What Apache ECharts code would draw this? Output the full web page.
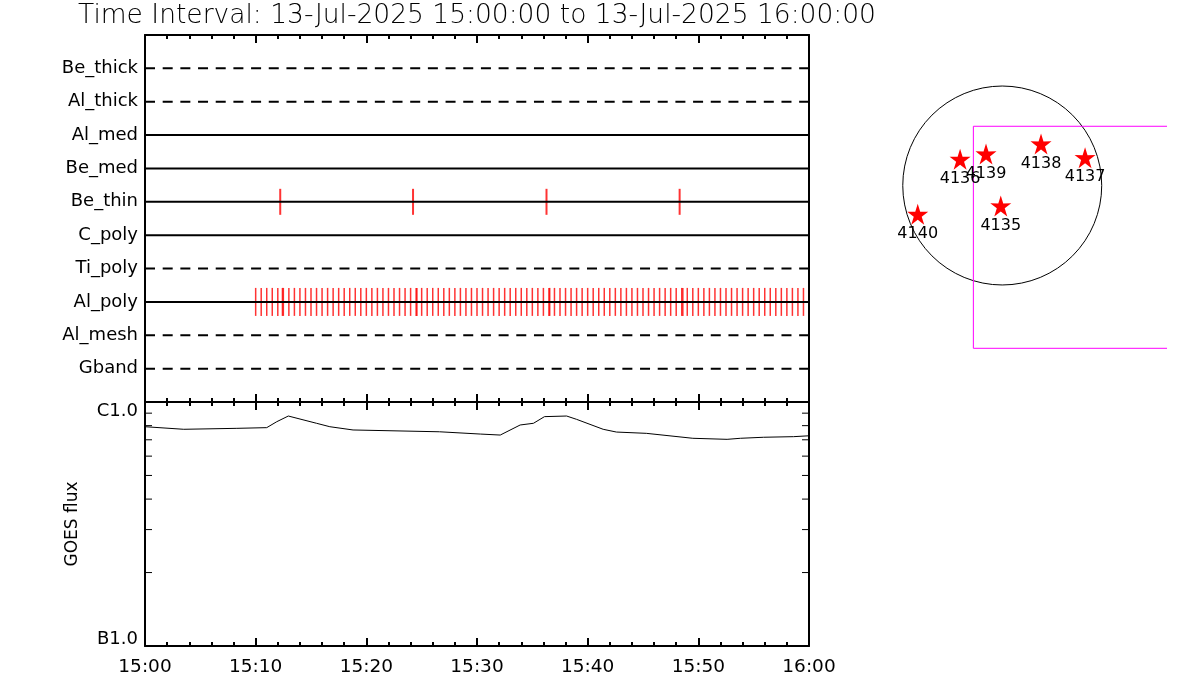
<!DOCTYPE html>
<html>
<head>
<meta charset="utf-8">
<script src="https://cdn.jsdelivr.net/npm/echarts@6/dist/echarts.min.js"></script>
<style>html,body{margin:0;padding:0;background:#fff}#chart{width:1200px;height:700px}</style>
</head>
<body>
<div id="chart"></div>
<script>
// ---------------- data ----------------
const titleText = 'Time Interval: 13-Jul-2025 15:00:00 to 13-Jul-2025 16:00:00';
// filter rows, bottom to top
const rowNames = ['Gband', 'Al_mesh', 'Al_poly', 'Ti_poly', 'C_poly', 'Be_thin', 'Be_med', 'Al_med', 'Al_thick', 'Be_thick'];
// exposure times, minutes after 15:00
const beThinTimes = [12.22, 24.22, 36.28, 48.31];
const alPolyTimes = [
  10.0, 10.5, 11.0, 11.5, 12.0, 12.42, 12.5, 13.0, 13.5, 14.0, 14.5, 15.0, 15.5, 16.0, 16.5, 17.0, 17.5, 18.0, 18.5, 19.0, 19.5,
  20.0, 20.5, 21.0, 21.5, 22.0, 22.5, 23.0, 23.5, 24.0, 24.5, 24.57, 25.0, 25.5, 26.0, 26.5, 27.0, 27.5, 28.0, 28.5, 29.0, 29.5,
  30.0, 30.5, 31.0, 31.5, 32.0, 32.5, 33.0, 33.5, 34.0, 34.5, 35.0, 35.5, 36.0, 36.5, 36.57, 37.0, 37.5, 38.0, 38.5, 39.0, 39.5,
  40.0, 40.5, 41.0, 41.5, 42.0, 42.5, 43.0, 43.5, 44.0, 44.5, 45.0, 45.5, 46.0, 46.5, 47.0, 47.5, 48.0, 48.5, 48.6, 49.0, 49.5,
  50.0, 50.5, 51.0, 51.5, 52.0, 52.5, 53.0, 53.5, 54.0, 54.5, 55.0, 55.5, 56.0, 56.5, 57.0, 57.5, 58.0, 58.5, 59.0, 59.5
];
// GOES flux (W/m^2)
const goesTime = [0, 3.5, 8.3, 11.0, 11.9, 12.95, 15.5, 16.7, 18.8, 26.6, 30.3, 32.1, 33.9, 35.1, 36.1, 38.1, 39.0, 41.4, 42.6, 45.3, 49.5, 52.6, 53.8, 55.9, 58.6, 60];
const goesFlux = [7.92e-7, 7.73e-7, 7.80e-7, 7.85e-7, 8.30e-7, 8.76e-7, 8.18e-7, 7.92e-7, 7.68e-7, 7.55e-7, 7.39e-7, 7.32e-7, 8.05e-7, 8.18e-7, 8.71e-7, 8.76e-7, 8.49e-7, 7.73e-7, 7.53e-7, 7.44e-7, 7.10e-7, 7.03e-7, 7.10e-7, 7.17e-7, 7.21e-7, 7.27e-7];
const timeTickLabels = ['15:00', '15:10', '15:20', '15:30', '15:40', '15:50', '16:00'];
const goesTickLabels = ['B1.0', 'C1.0'];
const goesMinorTicks = [2e-7, 3e-7, 4e-7, 5e-7, 6e-7, 7e-7, 8e-7, 9e-7];
// solar disk map (arcsec)
const solarRadius = 944;
const arNames = ['4136', '4139', '4138', '4137', '4135', '4140'];
const arX = [-400, -154, 368, 786, -14, -802];
const arY = [249, 299, 394, 264, -194, -273];
const fovX = [-274, 1833];
const fovY = [-1545, 562];

// ---------------- chart ----------------
const FONT = '"DejaVu Sans", sans-serif';
const solidRows = new Set(['Al_med', 'Be_med', 'Be_thin', 'C_poly', 'Al_poly']);
const rowValue = name => rowNames.indexOf(name) + 1;

function timeAxis(gridIndex, position, showLabels) {
  return {
    type: 'value', gridIndex, position, min: 0, max: 60, interval: 10,
    axisLine: { show: true, onZero: false, lineStyle: { color: '#000', width: 2 } },
    axisTick: { show: true, inside: true, length: 8, lineStyle: { color: '#000', width: 2 } },
    minorTick: { show: true, splitNumber: 5, length: 4, lineStyle: { color: '#000', width: 2 } },
    splitLine: { show: false }, minorSplitLine: { show: false },
    axisLabel: showLabels ? {
      show: true, margin: 12, color: '#000', fontFamily: FONT, fontSize: 18.5, fontWeight: 'normal',
      formatter: v => timeTickLabels[Math.round(v / 10)]
    } : { show: false }
  };
}

const series = [];
rowNames.forEach(name => {
  series.push({
    type: 'line', xAxisIndex: 0, yAxisIndex: 0, z: 4, silent: true,
    data: [[0, rowValue(name)], [60, rowValue(name)]],
    showSymbol: false, symbol: 'none',
    lineStyle: { color: '#000', width: 2, type: solidRows.has(name) ? 'solid' : [10, 7.68] }
  });
});
series.push({
  type: 'scatter', xAxisIndex: 0, yAxisIndex: 0, z: 3, silent: true,
  symbol: 'rect', symbolSize: [2, 26],
  itemStyle: { color: '#ff0000' },
  data: beThinTimes.map(t => [t, rowValue('Be_thin')])
});
series.push({
  type: 'scatter', xAxisIndex: 0, yAxisIndex: 0, z: 3, silent: true,
  symbol: 'rect', symbolSize: [1.5, 28],
  itemStyle: { color: '#ff0000' },
  data: alPolyTimes.map(t => [t, rowValue('Al_poly')])
});
series.push({
  type: 'line', xAxisIndex: 3, yAxisIndex: 2, silent: true,
  showSymbol: false, symbol: 'none',
  lineStyle: { color: '#000', width: 1 },
  data: goesTime.map((t, i) => [t, goesFlux[i]])
});
series.push({
  type: 'custom', xAxisIndex: 3, yAxisIndex: 2, silent: true,
  data: goesMinorTicks.map(v => [0, v]),
  renderItem: (params, api) => {
    const pl = api.coord([0, api.value(1)]);
    const pr = api.coord([60, api.value(1)]);
    const st = { stroke: '#000', lineWidth: 1 };
    return {
      type: 'group', children: [
        { type: 'line', shape: { x1: pl[0], y1: pl[1], x2: pl[0] + 7, y2: pl[1] }, style: st },
        { type: 'line', shape: { x1: pr[0] - 7, y1: pr[1], x2: pr[0], y2: pr[1] }, style: st }
      ]
    };
  }
});
// solar disk
series.push({
  type: 'custom', xAxisIndex: 4, yAxisIndex: 4, silent: true,
  data: [[0, 0, solarRadius]],
  renderItem: (params, api) => {
    const c = api.coord([api.value(0), api.value(1)]);
    const r = api.size([api.value(2), 0])[0];
    return { type: 'circle', shape: { cx: c[0], cy: c[1], r }, style: { fill: 'none', stroke: '#000', lineWidth: 1 } };
  }
});
// FOV box
series.push({
  type: 'line', xAxisIndex: 4, yAxisIndex: 4, silent: true, clip: true,
  showSymbol: false, symbol: 'none',
  lineStyle: { color: '#ff00ff', width: 1 },
  data: [[fovX[1], fovY[1]], [fovX[0], fovY[1]], [fovX[0], fovY[0]], [fovX[1], fovY[0]]]
});
// active regions
series.push({
  type: 'scatter', xAxisIndex: 4, yAxisIndex: 4, silent: true, z: 5,
  symbol: 'path://M50,0 L61.2,35.5 L97.6,34.5 L68,56.5 L79.4,92 L50,70 L20.6,92 L32,56.5 L2.4,34.5 L38.8,35.5 Z',
  symbolSize: 21,
  itemStyle: { color: '#ff0000', opacity: 1 },
  label: {
    show: true, position: 'bottom', distance: 1, color: '#000',
    fontFamily: FONT, fontSize: 16, fontWeight: 'normal',
    formatter: p => arNames[p.dataIndex]
  },
  data: arX.map((x, i) => [x, arY[i]])
});

const option = {
  animation: false,
  backgroundColor: '#fff',
  graphic: [{
    type: 'text', x: 477, y: 16,
    style: { text: titleText, fill: '#000', font: '200 26.5px "DejaVu Sans", sans-serif', textAlign: 'center', textVerticalAlign: 'middle' }
  }],
  grid: [
    { left: 145, top: 35, width: 664, height: 367 },
    { left: 145, top: 402, width: 664, height: 244 },
    { left: 880, top: 60, width: 286, height: 300 }
  ],
  xAxis: [
    timeAxis(0, 'top', false),
    timeAxis(0, 'bottom', false),
    timeAxis(1, 'top', false),
    timeAxis(1, 'bottom', true),
    { type: 'value', gridIndex: 2, min: -1160, max: 1554, show: false }
  ],
  yAxis: [
    {
      type: 'value', gridIndex: 0, position: 'left', min: 0, max: 11, interval: 1,
      axisLine: { show: true, onZero: false, lineStyle: { color: '#000', width: 2 } },
      axisTick: { show: false }, splitLine: { show: false },
      axisLabel: {
        show: true, margin: 7, color: '#000', fontFamily: FONT, fontSize: 18, fontWeight: 'normal',
        formatter: v => (v >= 1 && v <= rowNames.length) ? rowNames[v - 1] : ''
      }
    },
    {
      type: 'value', gridIndex: 0, position: 'right', min: 0, max: 11, interval: 1,
      axisLine: { show: true, onZero: false, lineStyle: { color: '#000', width: 2 } },
      axisTick: { show: false }, splitLine: { show: false }, axisLabel: { show: false }
    },
    {
      type: 'log', logBase: 10, gridIndex: 1, position: 'left', min: 1e-7, max: 1e-6,
      name: 'GOES flux', nameLocation: 'middle', nameGap: 64,
      nameTextStyle: { color: '#000', fontFamily: FONT, fontSize: 17, fontWeight: 'normal' },
      axisLine: { show: true, onZero: false, lineStyle: { color: '#000', width: 2 } },
      axisTick: { show: false }, splitLine: { show: false }, minorTick: { show: false },
      axisLabel: {
        show: true, margin: 7, color: '#000', fontFamily: FONT, fontSize: 18, fontWeight: 'normal',
        formatter: v => v > 3e-7 ? '{c|' + goesTickLabels[1] + '}' : '{b|' + goesTickLabels[0] + '}',
        rich: {
          c: { fontFamily: FONT, fontSize: 18, fontWeight: 'normal', color: '#000', padding: [18, 0, 0, 0] },
          b: { fontFamily: FONT, fontSize: 18, fontWeight: 'normal', color: '#000', padding: [0, 0, 14, 0] }
        }
      }
    },
    {
      type: 'log', logBase: 10, gridIndex: 1, position: 'right', min: 1e-7, max: 1e-6,
      axisLine: { show: true, onZero: false, lineStyle: { color: '#000', width: 2 } },
      axisTick: { show: false }, splitLine: { show: false }, axisLabel: { show: false }
    },
    { type: 'value', gridIndex: 2, min: -1656, max: 1191, show: false }
  ],
  series
};

const chart = echarts.init(document.getElementById('chart'), null, { renderer: 'canvas' });
chart.setOption(option);
</script>
</body>
</html>
